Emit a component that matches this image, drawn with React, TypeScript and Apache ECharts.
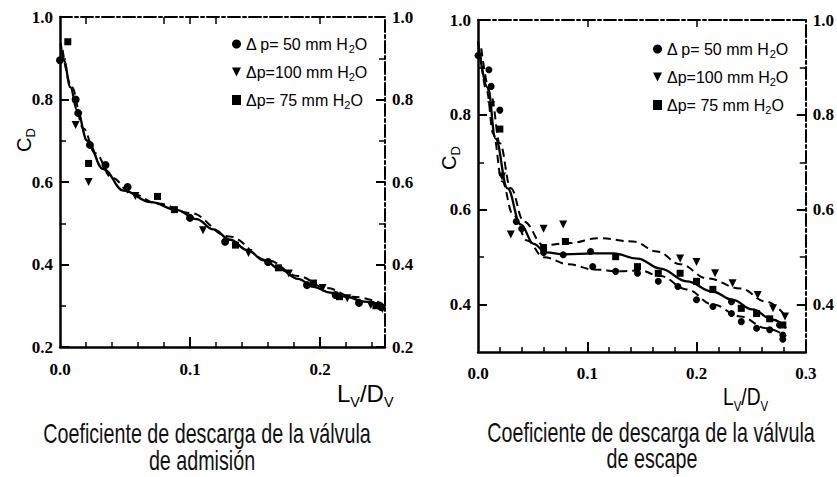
import React, { useEffect, useRef } from "react";
import * as echarts from "echarts";

// ---------- shared ----------
const legendNames = ["Δ p= 50 mm H2O", "Δp=100 mm H2O", "Δp= 75 mm H2O"];
const captionAdm = ["Coeficiente de descarga de la válvula", "de admisión"];
const captionEsc = ["Coeficiente de descarga de la válvula", "de escape"];

// ---------- left chart: admisión ----------
const admXLabels = [0, 0.1, 0.2];
const admXMajorTicks = [0.1, 0.2];
const admXMinorTicks = [0.02, 0.04, 0.06, 0.08, 0.12, 0.14, 0.16, 0.18, 0.22, 0.24];
const admXTopTicks = [0.02, 0.08, 0.1, 0.12, 0.2];
const admYLabels = [0.2, 0.4, 0.6, 0.8, 1.0];
const admYMinorTicks = [0.3, 0.5, 0.7, 0.9];

const admSolid = [
  [0.0005, 0.937], [0.003, 0.895], [0.008, 0.83], [0.013, 0.775], [0.021, 0.7],
  [0.033, 0.632], [0.049, 0.579], [0.07, 0.551], [0.09, 0.532], [0.105, 0.51],
  [0.118, 0.485], [0.131, 0.46], [0.144, 0.435], [0.157, 0.41], [0.17, 0.387],
  [0.183, 0.365], [0.195, 0.346], [0.208, 0.332], [0.221, 0.321], [0.234, 0.31], [0.248, 0.301],
];
const admDashed = [
  [0.002, 0.92], [0.009, 0.83], [0.018, 0.73], [0.027, 0.67], [0.04, 0.61],
  [0.055, 0.572], [0.075, 0.548], [0.1, 0.525], [0.13, 0.468], [0.16, 0.41],
  [0.183, 0.372], [0.205, 0.343], [0.225, 0.322], [0.248, 0.305],
];
const admCircles = [
  [0.0, 0.895], [0.012, 0.8], [0.014, 0.767], [0.023, 0.69], [0.035, 0.641],
  [0.052, 0.588], [0.1, 0.513], [0.127, 0.455], [0.16, 0.406], [0.19, 0.35],
  [0.212, 0.326], [0.23, 0.307], [0.247, 0.297],
];
const admTriangles = [
  [0.012, 0.738], [0.022, 0.6], [0.058, 0.566], [0.11, 0.483], [0.145, 0.428],
  [0.176, 0.378], [0.202, 0.343], [0.221, 0.318], [0.239, 0.302], [0.248, 0.292],
];
const admSquares = [
  [0.006, 0.94], [0.022, 0.645], [0.075, 0.565], [0.088, 0.533], [0.135, 0.447],
  [0.168, 0.392], [0.195, 0.355], [0.215, 0.322], [0.243, 0.3],
];

// ---------- right chart: escape ----------
const escXLabels = [0, 0.1, 0.2, 0.3];
const escXMajorTicks = [0.1, 0.2];
const escXMinorTicks = [0.02, 0.04, 0.06, 0.08, 0.12, 0.14, 0.16, 0.18, 0.22, 0.24, 0.26, 0.28];
const escXTopTicks = [0.1, 0.2];
const escYLabels = [0.4, 0.6, 0.8, 1.0];
const escYMinorTicks = [0.5, 0.7, 0.9];

const escSolid = [
  [0, 0.955], [0.009, 0.857], [0.016, 0.75], [0.027, 0.645], [0.039, 0.569],
  [0.051, 0.528], [0.062, 0.51], [0.079, 0.506], [0.106, 0.508], [0.124, 0.508],
  [0.146, 0.497], [0.167, 0.476], [0.191, 0.449], [0.215, 0.427], [0.233, 0.41],
  [0.251, 0.39], [0.27, 0.368], [0.282, 0.35],
];
const escDashedUpper = [
  [0.003, 0.94], [0.012, 0.84], [0.02, 0.74], [0.03, 0.645], [0.042, 0.575],
  [0.06, 0.525], [0.085, 0.53], [0.11, 0.54], [0.142, 0.533], [0.164, 0.512],
  [0.185, 0.485], [0.21, 0.455], [0.24, 0.434], [0.264, 0.406], [0.282, 0.375],
];
const escDashedLower = [
  [0.002, 0.93], [0.008, 0.85], [0.014, 0.76], [0.022, 0.66], [0.032, 0.59],
  [0.045, 0.535], [0.06, 0.5], [0.083, 0.485], [0.106, 0.474], [0.13, 0.47],
  [0.148, 0.472], [0.167, 0.46], [0.191, 0.432], [0.215, 0.4], [0.24, 0.375],
  [0.264, 0.35], [0.282, 0.333],
];
const escCircles = [
  [0, 0.925], [0.01, 0.895], [0.012, 0.86], [0.02, 0.81], [0.035, 0.575],
  [0.04, 0.56], [0.06, 0.51], [0.078, 0.505], [0.103, 0.512], [0.105, 0.48],
  [0.126, 0.47], [0.146, 0.466], [0.165, 0.449], [0.183, 0.438], [0.2, 0.41],
  [0.215, 0.396], [0.232, 0.406], [0.232, 0.381], [0.241, 0.364], [0.255, 0.35],
  [0.267, 0.347], [0.276, 0.357], [0.279, 0.336], [0.279, 0.327],
];
const escTriangles = [
  [0.012, 0.82], [0.022, 0.67], [0.03, 0.548], [0.06, 0.56], [0.078, 0.569],
  [0.185, 0.497], [0.2, 0.49], [0.217, 0.466], [0.233, 0.445], [0.256, 0.42],
  [0.27, 0.392], [0.281, 0.375],
];
const escSquares = [
  [0.02, 0.77], [0.06, 0.52], [0.08, 0.533], [0.126, 0.501], [0.146, 0.48],
  [0.165, 0.466], [0.185, 0.466], [0.2, 0.449], [0.215, 0.432], [0.241, 0.392],
  [0.255, 0.381], [0.267, 0.37], [0.279, 0.357],
];

const BLACK = "#000";
const SANS = "Liberation Sans, Arial, sans-serif";
const SERIF = "Liberation Serif, Times New Roman, serif";
const triDown = "path://M0,0L10,0L5,10Z";

function makeX(gridIndex: number, max: number, labels: number[], majors: number[], minors: number[], tops: number[], margin: number) {
  return [
    {
      type: "value", gridIndex, position: "bottom", min: 0, max,
      axisLine: { show: true, onZero: false, lineStyle: { color: BLACK, width: 2.5 } },
      axisTick: { show: true, inside: true, length: 10, customValues: majors, lineStyle: { color: BLACK, width: 2 } },
      axisLabel: {
        show: true, customValues: labels, margin, color: BLACK, fontFamily: SERIF, fontWeight: "bold", fontSize: 17,
        formatter: (v: number) => v.toFixed(1),
      },
      splitLine: { show: false },
    },
    {
      type: "value", gridIndex, position: "bottom", min: 0, max,
      axisLine: { show: false, onZero: false },
      axisTick: { show: true, inside: true, length: 5, customValues: minors, lineStyle: { color: BLACK, width: 1.5 } },
      axisLabel: { show: false },
      splitLine: { show: false },
    },
    {
      type: "value", gridIndex, position: "top", min: 0, max,
      axisLine: { show: true, onZero: false, lineStyle: { color: BLACK, width: 2, type: [12, 3, 3, 3] } },
      axisTick: { show: true, inside: true, length: 7, customValues: tops, lineStyle: { color: BLACK, width: 1.5 } },
      axisLabel: { show: false },
      splitLine: { show: false },
    },
  ];
}

function makeY(gridIndex: number, min: number, labels: number[], minors: number[]) {
  const label = {
    show: true, customValues: labels, margin: 7, color: BLACK, fontFamily: SERIF, fontWeight: "bold", fontSize: 17,
    formatter: (v: number) => v.toFixed(1),
  };
  const base = { type: "value", gridIndex, min, max: 1.0, splitLine: { show: false } };
  return [
    {
      ...base, position: "left",
      axisLine: { show: true, onZero: false, lineStyle: { color: BLACK, width: 2.5 } },
      axisTick: { show: true, inside: true, length: 9, customValues: labels, lineStyle: { color: BLACK, width: 2 } },
      axisLabel: label,
    },
    {
      ...base, position: "left",
      axisLine: { show: false, onZero: false },
      axisTick: { show: true, inside: true, length: 6, customValues: minors, lineStyle: { color: BLACK, width: 1.5 } },
      axisLabel: { show: false },
    },
    {
      ...base, position: "right",
      axisLine: { show: true, onZero: false, lineStyle: { color: BLACK, width: 2, type: [12, 3, 3, 3] } },
      axisTick: { show: true, inside: true, length: 9, customValues: labels, lineStyle: { color: BLACK, width: 2 } },
      axisLabel: label,
    },
    {
      ...base, position: "right",
      axisLine: { show: false, onZero: false },
      axisTick: { show: true, inside: true, length: 6, customValues: minors, lineStyle: { color: BLACK, width: 1.5 } },
      axisLabel: { show: false },
    },
  ];
}

function lineSeries(xi: number, yi: number, data: number[][], dashed: boolean) {
  return {
    type: "line", xAxisIndex: xi, yAxisIndex: yi, data, smooth: 0.4, smoothMonotone: "x",
    symbol: "none", silent: true, z: 2,
    lineStyle: { color: BLACK, width: dashed ? 2 : 2.3, type: dashed ? [8, 5] : "solid" },
  };
}

function scatterSeries(xi: number, yi: number, name: string, data: number[][], symbol: string, size: number) {
  return {
    type: "scatter", name, xAxisIndex: xi, yAxisIndex: yi, data, symbol, symbolSize: size, z: 3,
    itemStyle: { color: BLACK, opacity: 1 },
  };
}

const legendRich = {
  a: { fontFamily: SANS, fontSize: 16, lineHeight: 20, color: BLACK },
  s: { fontFamily: SANS, fontSize: 11, lineHeight: 11, color: BLACK, verticalAlign: "bottom" },
};
const legendFmt = (name: string) => `{a|${name.replace("H2O", "H")}}{s|2}{a|O}`;

function legend(left: number, top: number) {
  return {
    data: legendNames, left, top, orient: "vertical", itemGap: 10, itemWidth: 9, itemHeight: 10,
    selectedMode: false, formatter: legendFmt,
    textStyle: { color: BLACK, fontFamily: SANS, fontSize: 16, rich: legendRich },
  };
}

function cdLabel(x: number, y: number, size: number) {
  return {
    type: "text", x, y, rotation: Math.PI / 2,
    style: {
      text: "{c|C}{d|D}", align: "center", verticalAlign: "middle", textAlign: "center", textVerticalAlign: "middle",
      rich: {
        c: { fontFamily: SANS, fontSize: size, lineHeight: size + 6, fill: BLACK },
        d: { fontFamily: SANS, fontSize: size * 0.65, lineHeight: size * 0.65, fill: BLACK, verticalAlign: "bottom" },
      },
    },
  };
}

function ldLabel(x: number, y: number, size: number, sx: number) {
  return {
    type: "text", x, y, scaleX: sx,
    style: {
      text: "{n|L}{s|V}{n|/D}{s|V}", align: "left", verticalAlign: "top", textAlign: "left", textVerticalAlign: "top",
      rich: {
        n: { fontFamily: SANS, fontSize: size, lineHeight: size + 8, fill: BLACK },
        s: { fontFamily: SANS, fontSize: size * 0.6, lineHeight: size * 0.6, fill: BLACK, verticalAlign: "bottom" },
      },
    },
  };
}

function caption(x: number, y: number, text: string) {
  return {
    type: "text", x, y, scaleX: 0.73,
    style: {
      text, fontFamily: SANS, fontSize: 27, fill: "#111",
      align: "center", verticalAlign: "middle", textAlign: "center", textVerticalAlign: "middle",
    },
  };
}

export default function App() {
  const ref = useRef<HTMLDivElement>(null);
  useEffect(() => {
    if (!ref.current) return;
    const chart = echarts.init(ref.current, null, { renderer: "svg" });
    const option: any = {
      animation: false,
      backgroundColor: "#fff",
      grid: [
        { left: 60, top: 17, width: 325, height: 330, containLabel: false },
        { left: 478, top: 20, width: 329, height: 332, containLabel: false },
      ],
      xAxis: [
        ...makeX(0, 0.25, admXLabels, admXMajorTicks, admXMinorTicks, admXTopTicks, 14),
        ...makeX(1, 0.3, escXLabels, escXMajorTicks, escXMinorTicks, escXTopTicks, 13),
      ],
      yAxis: [
        ...makeY(0, 0.2, admYLabels, admYMinorTicks),
        ...makeY(1, 0.3, escYLabels, escYMinorTicks),
      ],
      legend: [legend(227, 31), legend(648, 36)],
      series: [
        lineSeries(0, 0, admSolid, false),
        lineSeries(0, 0, admDashed, true),
        scatterSeries(0, 0, legendNames[0], admCircles, "circle", 8),
        scatterSeries(0, 0, legendNames[1], admTriangles, triDown, 8),
        scatterSeries(0, 0, legendNames[2], admSquares, "rect", 7),
        lineSeries(3, 4, escSolid, false),
        lineSeries(3, 4, escDashedUpper, true),
        lineSeries(3, 4, escDashedLower, true),
        scatterSeries(3, 4, legendNames[0], escCircles, "circle", 7),
        scatterSeries(3, 4, legendNames[1], escTriangles, triDown, 8),
        scatterSeries(3, 4, legendNames[2], escSquares, "rect", 7),
      ],
      graphic: [
        cdLabel(24, 140, 20),
        cdLabel(449, 158, 20),
        ldLabel(337, 377, 24, 1),
        ldLabel(723, 381, 24, 0.8),
        caption(207, 434, captionAdm[0]),
        caption(202, 461, captionAdm[1]),
        caption(651, 433, captionEsc[0]),
        caption(652, 459, captionEsc[1]),
      ],
    };
    chart.setOption(option);
    return () => chart.dispose();
  }, []);
  return (
    <div
      ref={ref}
      style={{ position: "absolute", left: 0, top: 0, width: 837, height: 477, background: "#fff" }}
    />
  );
}
